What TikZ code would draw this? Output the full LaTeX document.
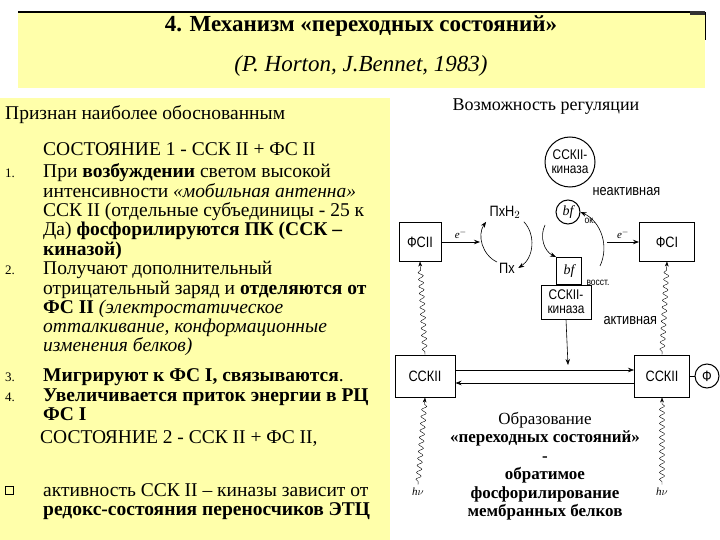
\documentclass[tikz,border=0pt]{standalone}
\usepackage{fontspec}
\setmainfont{Liberation Serif}
\newfontfamily\narrowf[FakeStretch=0.85]{Liberation Sans}
\usetikzlibrary{decorations.pathmorphing,arrows.meta}
\definecolor{pale}{RGB}{255,255,170}
\begin{document}
\begin{tikzpicture}[x=1pt,y=-1pt,
  lt/.style={anchor=base west,inner sep=0pt,font=\fontsize{19.5}{19.5}\selectfont},
  num/.style={anchor=base west,inner sep=0pt,font=\fontsize{13}{13}\selectfont},
  dg/.style={font=\narrowf\fontsize{15}{15}\selectfont},
  bx/.style={draw,line width=1pt,dg,inner sep=2pt},
  wav/.style={decorate,decoration={snake,amplitude=2.5pt,segment length=7pt,pre length=3pt,post length=6pt},-{Stealth[length=5pt]}},
  arr/.style={-{Stealth[length=6pt]},line width=0.8pt}]
\useasboundingbox (0,0) rectangle (720,540);
\fill[pale] (18,12) rectangle (705,88);
\draw[line width=1.2pt] (18,12) -- (705,12);
\fill[black!80] (690,11) rectangle (705,15);
\draw[line width=0.8pt] (705,12) -- (705,40);
\node[font=\bfseries\fontsize{23}{23}\selectfont] (title) at (361,26) {4. Механизм «переходных состояний»};
\node[font=\itshape\fontsize{23}{23}\selectfont] (cite) at (361,66) {(P. Horton, J.Bennet, 1983)};
\fill[pale] (0,98) rectangle (390,540);
\node[lt] (l0) at (5,120) {Признан наиболее обоснованным};
\node[lt] (l1) at (43,156) {СОСТОЯНИЕ 1 - ССК II + ФС II};
\node[num] (n1) at (5,178) {1.};
\node[lt] (a1) at (43,178) {При \textbf{возбуждении} светом высокой};
\node[lt] (a2) at (43,198) {интенсивности \textit{«мобильная антенна»}};
\node[lt] (a3) at (43,217) {ССК II (отдельные субъединицы - 25 к};
\node[lt] (a4) at (43,236) {Да) \textbf{фосфорилируются ПК (ССК –}};
\node[lt] (a5) at (43,255) {\textbf{киназой)}};
\node[num] (n2) at (5,274) {2.};
\node[lt] (b1) at (43,274) {Получают дополнительный};
\node[lt] (b2) at (43,294) {отрицательный заряд и \textbf{отделяются от}};
\node[lt] (b3) at (43,313) {\textbf{ФС II} \textit{(электростатическое}};
\node[lt] (b4) at (43,332) {\textit{отталкивание, конформационные}};
\node[lt] (b5) at (43,351) {\textit{изменения белков)}};
\node[num] (n3) at (5,381) {3.};
\node[lt] (c1) at (43,381) {\textbf{Мигрируют к ФС I, связываются}.};
\node[num] (n4) at (5,401) {4.};
\node[lt] (d1) at (43,401) {\textbf{Увеличивается приток энергии в РЦ}};
\node[lt] (d2) at (43,420) {\textbf{ФС I}};
\node[lt] (s2) at (40,443) {СОСТОЯНИЕ 2 - ССК II + ФС II,};
\node[draw,minimum size=8pt,inner sep=0pt] (sq) at (9,490) {};
\node[lt] (e1) at (43,496) {активность ССК II – киназы зависит от};
\node[lt] (e2) at (43,515) {\textbf{редокс-состояния переносчиков ЭТЦ}};
% right diagram
\node[font=\fontsize{18}{18}\selectfont] (reg) at (546,107) {Возможность регуляции};
\node[draw,circle,line width=1pt,minimum size=50pt,inner sep=0pt,align=center,font=\narrowf\fontsize{14}{14}\selectfont] (kin1) at (570,162) {ССКII-\\киназа};
\node[dg,anchor=west] (inact) at (589,192) {неактивная};
\node[draw,circle,line width=1pt,minimum size=24pt,inner sep=0pt,font=\itshape\fontsize{14}{14}\selectfont] (bf1) at (568,212) {bf};
\node[font=\narrowf\fontsize{10}{10}\selectfont] (ok) at (590,221) {ок.};
\node[bx,minimum width=42pt,minimum height=38pt] (fs2) at (420,242) {ФСII};
\node[bx,minimum width=55pt,minimum height=38pt] (fs1) at (667,242) {ФСI};
\node[dg] (pxh) at (505,212) {ПхН$_2$};
\node[dg] (px) at (507,268) {Пх};
\node[draw,line width=1pt,minimum width=25pt,minimum height=27pt,inner sep=0pt,font=\itshape\fontsize{14}{14}\selectfont] (bf2) at (569,271) {bf};
\node[font=\narrowf\fontsize{10}{10}\selectfont] (vos) at (598,283) {восст.};
\node[bx,minimum width=50pt,minimum height=34pt,align=center,font=\narrowf\fontsize{14}{14}\selectfont,inner sep=0pt] (kin2) at (566,302) {ССКII-\\киназа};
\node[dg,anchor=west] (act) at (600,321) {активная};
\node[bx,minimum width=60pt,minimum height=42pt] (lhc1) at (425,376) {ССКII};
\node[bx,minimum width=55pt,minimum height=42pt] (lhc2) at (662,376) {ССКII};
\node[draw,circle,line width=1pt,minimum size=24pt,inner sep=0pt,dg] (phi) at (707,376) {Ф};
\draw[line width=1pt] (lhc2) -- (phi);
% e- arrows
\draw[arr] (fs2.east) -- node[above,font=\itshape\fontsize{11}{11}\selectfont]{e$^-$} (480,242);
\coordinate (e2s) at (607,242);
\draw[arr] (e2s) -- node[above,font=\itshape\fontsize{11}{11}\selectfont]{e$^-$} (fs1.west);
% cycles
\draw[arr,line width=0.6pt] (497,262) to[bend left=50] (pxh.south west);
\draw[arr,line width=0.6pt] (pxh.south east) to[bend left=50] (px.east);
\draw[arr,line width=0.6pt] (545,225) to[bend right=45] (bf2.north west);
\draw[arr,line width=0.6pt] (600,266) to[bend right=45] (bf1.east);
\coordinate (cross) at (568,365);
\draw[arr,line width=0.6pt] (kin2.south) -- (cross);
\draw[arr,line width=0.6pt] (lhc1.east |- 0,370) -- (lhc2.west |- 0,370);
\draw[arr,line width=0.6pt] (lhc2.west |- 0,383) -- (lhc1.east |- 0,383);
% wavy
\draw[wav] (lhc1.north) -- (fs2.south);
\draw[wav] (lhc2.north) -- (fs1.south);
\node[font=\itshape\fontsize{11}{11}\selectfont] (hv1) at (418,492) {h$\nu$};
\node[font=\itshape\fontsize{11}{11}\selectfont] (hv2) at (662,492) {h$\nu$};
\draw[wav] (hv1.north) -- (lhc1.south);
\draw[wav] (hv2.north) -- (lhc2.south);
\node[font=\fontsize{17}{18.5}\selectfont,align=center] (res) at (545,466) {Образование\\\textbf{«переходных состояний»}\\\textbf{-}\\\textbf{обратимое}\\\textbf{фосфорилирование}\\\textbf{мембранных белков}};
\end{tikzpicture}
\end{document}
